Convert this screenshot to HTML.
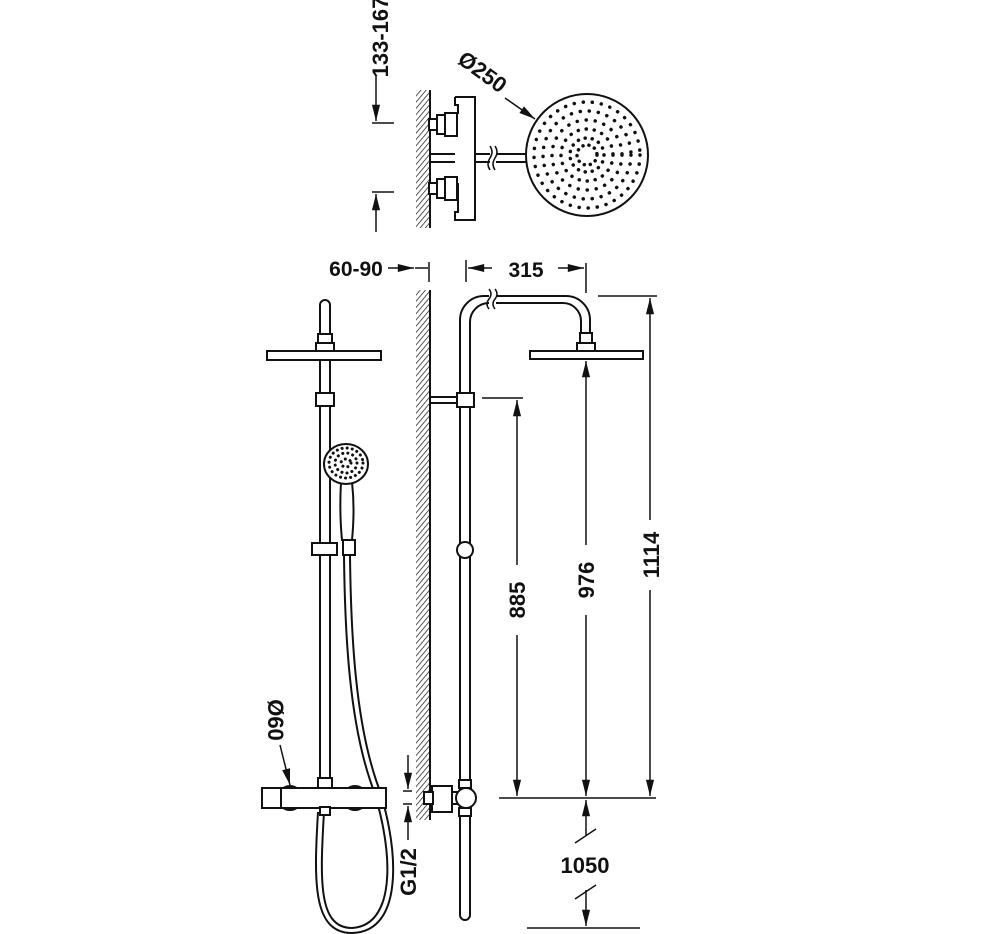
<!DOCTYPE html>
<html><head><meta charset="utf-8"><style>
html,body{margin:0;padding:0;background:#fff;}
svg{display:block;}
text{font-family:"Liberation Sans",Arial,sans-serif;font-weight:bold;fill:#111;}
</style></head><body>
<svg width="1003" height="934" viewBox="0 0 1003 934" xmlns="http://www.w3.org/2000/svg">
<defs>
<pattern id="h" width="4" height="4" patternUnits="userSpaceOnUse" patternTransform="rotate(40)">
<line x1="0" y1="0" x2="0" y2="4" stroke="#111" stroke-width="1.4"/>
</pattern>
<marker id="a" viewBox="0 0 18 10" refX="18" refY="5" markerWidth="18" markerHeight="9" orient="auto-start-reverse" markerUnits="userSpaceOnUse">
<path d="M0,0.5 L18,5 L0,9.5 z" fill="#111"/>
</marker>
</defs>
<g fill="none" stroke="#111" stroke-width="2">

<!-- ===== TOP VIEW ===== -->
<rect x="416" y="90" width="13" height="138" fill="url(#h)" stroke="none"/>
<line x1="430" y1="90" x2="430" y2="228"/>
<path d="M455,97 h20 v123 h-20 v-8 h3 v-28 h-3 v-5 M455,97 v8 h3 v8 h-3 v20"/>
<rect x="445" y="113" width="12" height="23" fill="#fff"/>
<rect x="437" y="115" width="8" height="19" fill="#fff"/>
<rect x="429" y="119" width="8" height="11" fill="#fff"/>
<rect x="445" y="177" width="12" height="23" fill="#fff"/>
<rect x="437" y="179" width="8" height="19" fill="#fff"/>
<rect x="429" y="183" width="8" height="11" fill="#fff"/>
<line x1="430" y1="154" x2="455" y2="154"/><line x1="430" y1="162" x2="455" y2="162"/>
<line x1="475" y1="154" x2="527" y2="154"/><line x1="475" y1="162" x2="527" y2="162"/>
<rect x="490" y="152" width="6" height="12" fill="#fff" stroke="none"/>
<path d="M490,146 q4,6 0,12 q-4,6 0,12" stroke-width="1.5"/>
<path d="M495,146 q4,6 0,12 q-4,6 0,12" stroke-width="1.5"/>
<circle cx="587" cy="155" r="61" fill="#fff"/>
<line x1="376" y1="75" x2="376" y2="121" marker-end="url(#a)" stroke-width="1.5"/>
<line x1="372" y1="123" x2="394" y2="123" stroke-width="1.5"/>
<line x1="372" y1="192" x2="394" y2="192" stroke-width="1.5"/>
<line x1="376" y1="232" x2="376" y2="194" marker-end="url(#a)" stroke-width="1.5"/>
<line x1="505" y1="98" x2="535" y2="119" marker-end="url(#a)" stroke-width="1.5"/>

<!-- ===== LEFT ELEVATION ===== -->
<path d="M320,790 V305 a5,5 0 0 1 10,0 V790"/>
<rect x="318" y="334" width="14" height="9" fill="#fff"/>
<rect x="316" y="343" width="18" height="8" fill="#fff"/>
<rect x="267" y="351" width="114" height="9" fill="#fff"/>
<rect x="316" y="393" width="18" height="13" fill="#fff"/>
<path d="M341,482 C340,500 340,520 342,540 L352,540 C354,520 354,500 352,482" fill="#fff"/>
<ellipse cx="346" cy="464" rx="22" ry="20" fill="#fff"/>
<ellipse cx="346" cy="463" rx="17" ry="15" stroke-width="3" stroke-dasharray="0.1 5" stroke-linecap="round"/>
<ellipse cx="346" cy="463" rx="11" ry="10" stroke-width="3" stroke-dasharray="0.1 5" stroke-linecap="round"/>
<ellipse cx="346" cy="463" rx="5" ry="4" stroke-width="3" stroke-dasharray="0.1 5" stroke-linecap="round"/>
<path d="M312,543 h25 v12 h-25 z" fill="#fff"/>
<rect x="343" y="540" width="12" height="15" fill="#fff"/>
<path d="M344,556 C345,640 350,720 370,780 C392,840 400,925 352,928 C318,928 320,880 324,812"/>
<path d="M350,556 C351,640 356,720 376,780 C398,840 407,932 352,933 C312,933 314,880 318,812"/>
<rect x="318" y="778" width="14" height="11" fill="#fff"/>
<circle cx="290" cy="798" r="12" fill="#fff"/>
<circle cx="355" cy="798" r="12" fill="#fff"/>
<rect x="262" y="788" width="124" height="20" fill="#fff"/>
<line x1="281" y1="788" x2="281" y2="808"/>
<rect x="320" y="807" width="10" height="8" fill="#fff"/>
<line x1="280" y1="745" x2="290" y2="785" marker-end="url(#a)" stroke-width="1.5"/>

<!-- ===== MIDDLE WALL ===== -->
<rect x="416" y="290" width="13" height="530" fill="url(#h)" stroke="none"/>
<line x1="430" y1="290" x2="430" y2="820"/>

<!-- ===== RIGHT ELEVATION ===== -->
<path d="M460,915 V320 a24,24 0 0 1 24,-24 H566 a24,24 0 0 1 24,24 V334"/>
<path d="M470,915 V322 a19,19 0 0 1 19,-19 H563 a18,18 0 0 1 18,18 V334"/>
<path d="M460,915 a5,5 0 0 0 10,0"/>
<rect x="489" y="290" width="7" height="18" fill="#fff" stroke="none"/>
<path d="M489,289 q4,5 0,10 q-4,5 0,10" stroke-width="1.5"/>
<path d="M495,289 q4,5 0,10 q-4,5 0,10" stroke-width="1.5"/>
<rect x="580" y="333" width="12" height="10" fill="#fff"/>
<rect x="577" y="343" width="18" height="8" fill="#fff"/>
<rect x="530" y="351" width="113" height="8" fill="#fff"/>
<rect x="430" y="397" width="27" height="6" fill="#fff"/>
<rect x="457" y="393" width="17" height="14" fill="#fff"/>
<circle cx="465" cy="550" r="8" fill="#fff"/>
<rect x="459" y="780" width="12" height="8" fill="#fff"/>
<rect x="459" y="808" width="12" height="8" fill="#fff"/>
<rect x="432" y="786" width="20" height="26" fill="#fff"/>
<rect x="424" y="792" width="9" height="12" fill="#fff"/>
<rect x="452" y="792" width="8" height="12" fill="#fff"/>
<circle cx="466" cy="798" r="10" fill="#fff"/>

<!-- dims -->
<line x1="415" y1="268" x2="428" y2="268" stroke-width="1.5"/>
<line x1="388" y1="268" x2="414" y2="268" marker-end="url(#a)" stroke-width="1.5"/>
<line x1="429" y1="262" x2="429" y2="282" stroke-width="1.5"/>
<line x1="466" y1="260" x2="466" y2="282" stroke-width="1.5"/>
<line x1="586" y1="263" x2="586" y2="293" stroke-width="1.5"/>
<line x1="492" y1="268" x2="468" y2="268" marker-end="url(#a)" stroke-width="1.5"/>
<line x1="558" y1="268" x2="584" y2="268" marker-end="url(#a)" stroke-width="1.5"/>
<line x1="598" y1="296" x2="657" y2="296" stroke-width="1.5"/>
<line x1="650" y1="520" x2="650" y2="298" marker-end="url(#a)" stroke-width="1.5"/>
<line x1="650" y1="590" x2="650" y2="796" marker-end="url(#a)" stroke-width="1.5"/>
<line x1="586" y1="545" x2="586" y2="361" marker-end="url(#a)" stroke-width="1.5"/>
<line x1="586" y1="615" x2="586" y2="796" marker-end="url(#a)" stroke-width="1.5"/>
<line x1="482" y1="398" x2="523" y2="398" stroke-width="1.5"/>
<line x1="517" y1="565" x2="517" y2="400" marker-end="url(#a)" stroke-width="1.5"/>
<line x1="517" y1="635" x2="517" y2="796" marker-end="url(#a)" stroke-width="1.5"/>
<line x1="499" y1="798" x2="656" y2="798" stroke-width="1.5"/>
<line x1="586" y1="835" x2="586" y2="800" marker-end="url(#a)" stroke-width="1.5"/>
<line x1="586" y1="890" x2="586" y2="926" marker-end="url(#a)" stroke-width="1.5"/>
<line x1="575" y1="843" x2="596" y2="829" stroke-width="1.5"/>
<line x1="575" y1="899" x2="596" y2="885" stroke-width="1.5"/>
<line x1="527" y1="928" x2="640" y2="928" stroke-width="1.5"/>
<line x1="408" y1="755" x2="408" y2="789" marker-end="url(#a)" stroke-width="1.5"/>
<line x1="403" y1="791" x2="412" y2="791" stroke-width="1.5"/>
<line x1="403" y1="804" x2="412" y2="804" stroke-width="1.5"/>
<line x1="408" y1="840" x2="408" y2="806" marker-end="url(#a)" stroke-width="1.5"/>
</g>
<g fill="none" stroke="#111" stroke-width="3.5" stroke-linecap="round">
<circle cx="587" cy="155" r="53" stroke-dasharray="0.1 9"/>
<circle cx="587" cy="155" r="44" stroke-dasharray="0.1 9"/>
<circle cx="587" cy="155" r="35" stroke-dasharray="0.1 9"/>
<circle cx="587" cy="155" r="26" stroke-dasharray="0.1 8"/>
<circle cx="587" cy="155" r="17" stroke-dasharray="0.1 7"/>
<circle cx="587" cy="155" r="10" stroke-dasharray="0.1 6"/>
</g>
<text transform="translate(388,37) rotate(-90)" text-anchor="middle" font-size="22">133-167</text>
<text transform="translate(478,78) rotate(36)" text-anchor="middle" font-size="22">Ø250</text>
<text x="356" y="276" text-anchor="middle" font-size="21">60-90</text>
<text x="526" y="277" text-anchor="middle" font-size="21">315</text>
<text transform="translate(659,555) rotate(-90)" text-anchor="middle" font-size="22">1114</text>
<text transform="translate(594,580) rotate(-90)" text-anchor="middle" font-size="22">976</text>
<text transform="translate(525,600) rotate(-90)" text-anchor="middle" font-size="22">885</text>
<text x="585" y="873" text-anchor="middle" font-size="22">1050</text>
<text transform="translate(268,720) rotate(90)" text-anchor="middle" font-size="22">Ø60</text>
<text transform="translate(416,872) rotate(-90)" text-anchor="middle" font-size="22">G1/2</text>
</svg>
</body></html>
